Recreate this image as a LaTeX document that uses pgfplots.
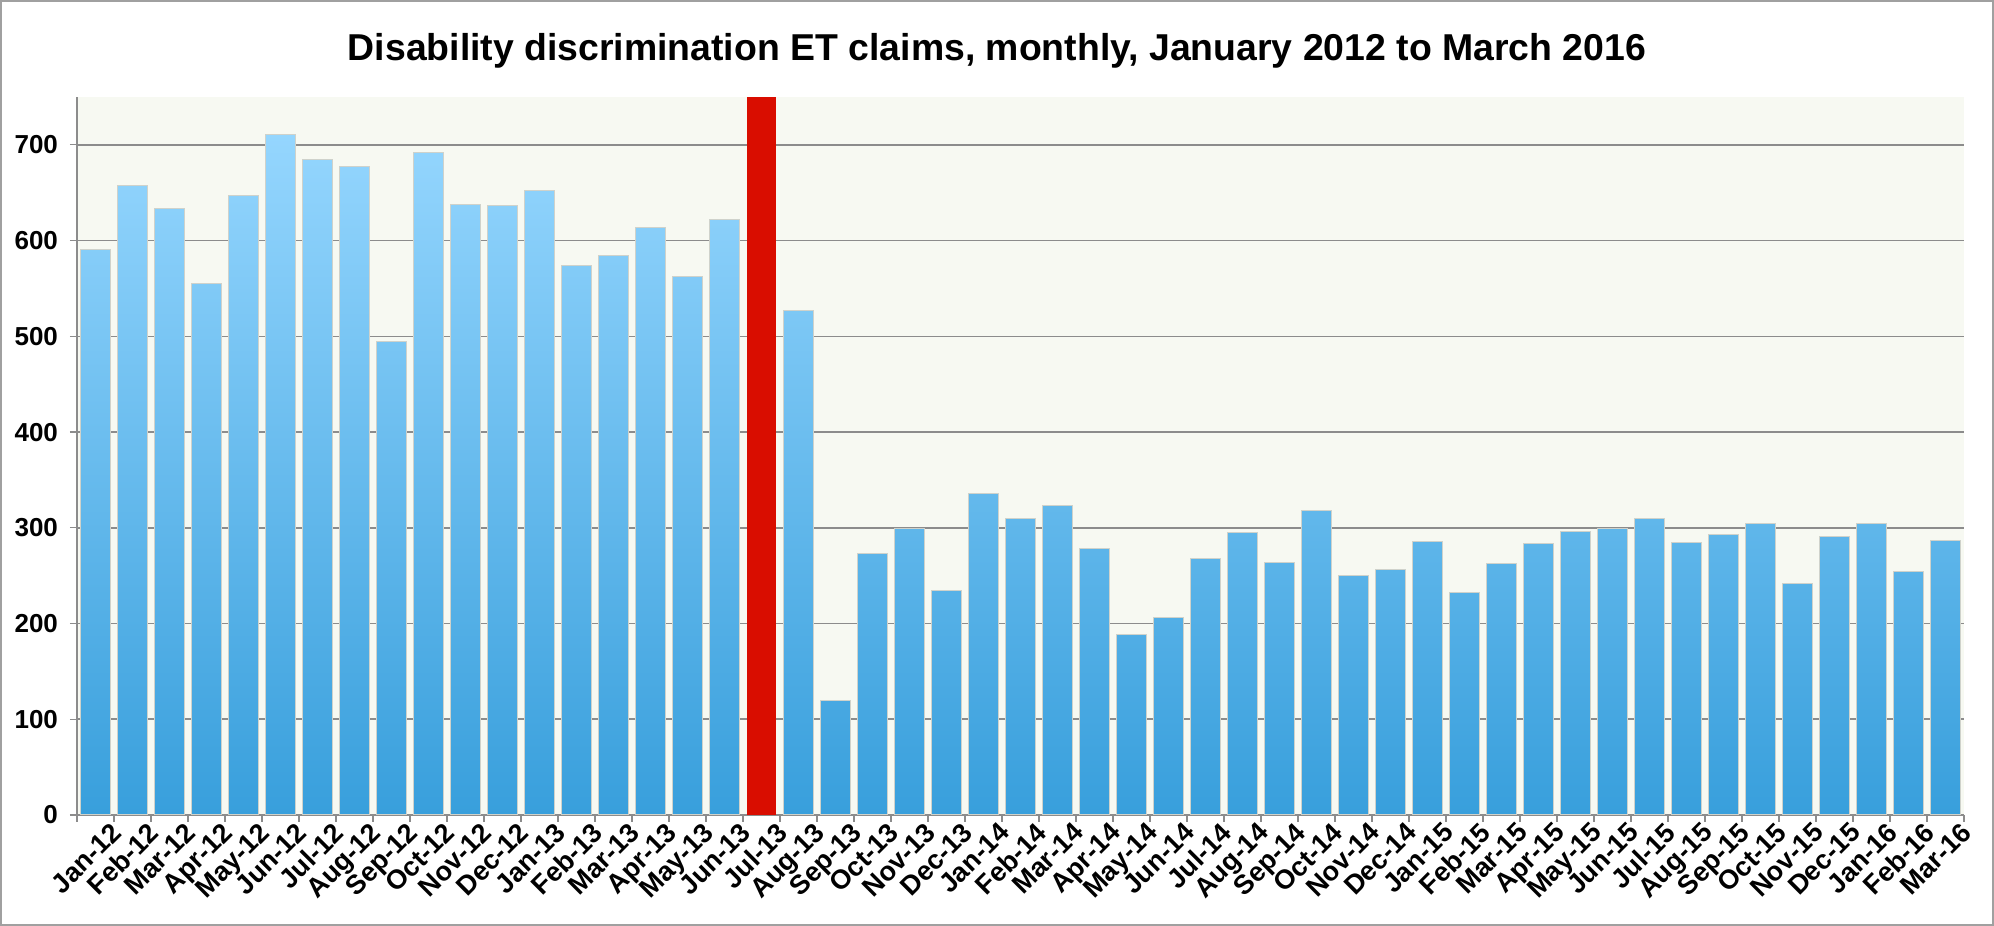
\documentclass[border=0pt]{standalone}
\usepackage{pgfplots}
\usepackage{pgfplotstable}
\pgfplotsset{compat=1.18}
\usepackage{fontspec}
\setmainfont{Liberation Sans}
\definecolor{bgc}{HTML}{F7F9F2}
\definecolor{bartop}{HTML}{95D6FE}
\definecolor{barbot}{HTML}{389FDC}
\definecolor{redbar}{HTML}{D90D00}
\definecolor{gridc}{HTML}{8C8C8C}
\definecolor{framec}{HTML}{A0A0A0}
\definecolor{edgec}{HTML}{CFD2CB}

\pgfplotstableread{
x y
0 591
1 658
2 634
3 555
4 647
5 711
6 685
7 677
8 495
9 692
10 638
11 637
12 652
13 574
14 584
15 614
16 563
17 622
19 527
20 120
21 273
22 299
23 235
24 336
25 310
26 323
27 278
28 189
29 206
30 268
31 295
32 264
33 318
34 250
35 256
36 286
37 232
38 263
39 284
40 296
41 299
42 310
43 285
44 293
45 305
46 242
47 291
48 305
49 254
50 287
}\bluedata

\begin{document}
\begin{tikzpicture}
\useasboundingbox (-38.5pt,-55.5pt) rectangle (958.5pt,407.5pt);
\draw[framec, line width=1pt] (-38pt,-55pt) rectangle (958pt,407pt);
\begin{axis}[
  at={(0pt,0pt)}, anchor=south west,
  scale only axis, width=943.5pt, height=359pt,
  xmin=-0.5, xmax=50.5, ymin=0, ymax=750,
  axis background/.style={fill=bgc},
  axis x line=bottom, axis y line=left,
  axis line style={-, draw=gridc, line width=0.6pt},
  ytick={0,100,...,700},
  minor ytick={0,100,...,700},
  ymajorgrids, grid style={gridc, line width=0.8pt},
  yminorgrids=false,
  tick align=outside,
  major tick length=0pt,
  minor tick length=3.5pt,
  tick style={gridc, line width=0.6pt},
  xtick={0,1,...,50},
  minor xtick={-0.5,0.5,...,50.5},
  xticklabels={Jan-12,Feb-12,Mar-12,Apr-12,May-12,Jun-12,Jul-12,Aug-12,Sep-12,Oct-12,Nov-12,Dec-12,Jan-13,Feb-13,Mar-13,Apr-13,May-13,Jun-13,Jul-13,Aug-13,Sep-13,Oct-13,Nov-13,Dec-13,Jan-14,Feb-14,Mar-14,Apr-14,May-14,Jun-14,Jul-14,Aug-14,Sep-14,Oct-14,Nov-14,Dec-14,Jan-15,Feb-15,Mar-15,Apr-15,May-15,Jun-15,Jul-15,Aug-15,Sep-15,Oct-15,Nov-15,Dec-15,Jan-16,Feb-16,Mar-16},
  xticklabel style={rotate=45, anchor=north east, inner sep=0pt, yshift=-7pt, xshift=3pt, font=\fontsize{13.5}{15}\selectfont\bfseries},
  yticklabel style={font=\fontsize{13}{15}\selectfont\bfseries, xshift=-6pt},
  /pgf/number format/assume math mode=true,
  ybar, bar width=0.81, bar shift=0pt,
]
\addplot[draw=edgec, line width=0.5pt, top color=bartop, bottom color=barbot] table {\bluedata};
\addplot[draw=none, fill=redbar] coordinates {(18,750)};
\end{axis}
\node[anchor=base, font=\fontsize{18.7}{22}\selectfont\bfseries] at (460pt,377pt) {Disability discrimination ET claims, monthly, January 2012 to March 2016};
\end{tikzpicture}
\end{document}
